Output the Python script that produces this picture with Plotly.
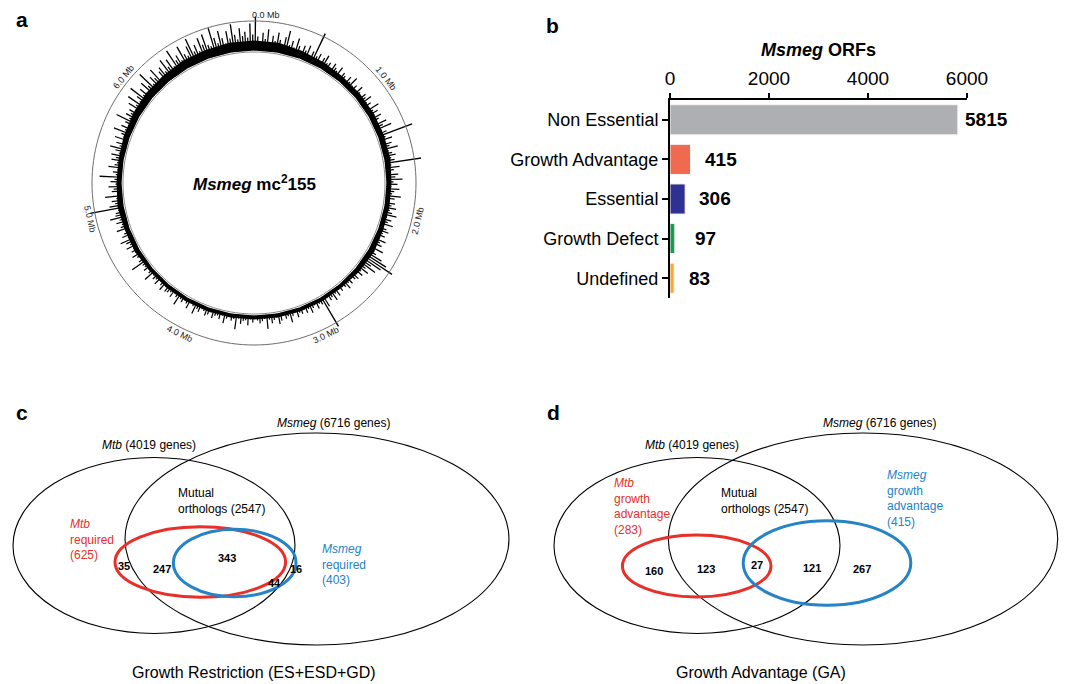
import math
import plotly.graph_objects as go

# ---------------- DATA ----------------
GENOME_MB = 6.988
ring_tick_mb = [0, 1, 2, 3, 4, 5, 6]
ring_tick_labels = ["0.0 Mb", "1.0 Mb", "2.0 Mb", "3.0 Mb", "4.0 Mb", "5.0 Mb", "6.0 Mb"]

# dense insertion band thickness (px) sampled every 10 degrees of the genome circle
band_deg = list(range(0, 370, 10))
band_px = [10, 10, 8, 7, 6, 6, 6, 6, 6, 5, 5, 5, 6, 5, 4, 4, 4, 4, 4, 4,
           4, 4, 4, 4, 5, 5, 6, 5, 5, 6, 7, 8, 8, 9, 9, 10, 10]

# insertion spike heights (px), one per 1/360 of the genome
spike_px = [
    34, 14, 9, 18, 12, 22, 8, 16, 11, 20, 13, 7, 17, 24, 10, 15, 9, 19, 12, 8,
    14, 10, 16, 7, 12, 33, 9, 13, 6, 11, 15, 8, 10, 5, 12, 9, 7, 13, 6, 10,
    8, 5, 11, 7, 14, 6, 9, 4, 12, 7, 5, 10, 8, 13, 6, 9, 5, 15, 7, 11,
    6, 12, 8, 5, 14, 9, 17, 6, 10, 37, 7, 13, 5, 11, 8, 16, 6, 9, 12, 7,
    10, 39, 6, 14, 8, 5, 12, 9, 16, 7, 11, 5, 13, 8, 6, 15, 9, 4, 10, 7,
    12, 6, 9, 14, 5, 10, 7, 13, 4, 8, 11, 6, 9, 5, 12, 7, 10, 4, 14, 6,
    9, 17, 24, 33, 21, 11, 18, 8, 13, 6, 10, 5, 9, 7, 4, 8, 5, 10, 6, 4,
    7, 4, 9, 5, 11, 6, 8, 4, 12, 34, 7, 5, 9, 4, 6, 10, 5, 8, 4, 7,
    5, 9, 4, 6, 12, 5, 7, 3, 8, 11, 4, 6, 9, 5, 14, 4, 6, 8, 5, 3,
    7, 4, 10, 5, 6, 9, 4, 15, 5, 7, 3, 6, 11, 4, 8, 5, 6, 9, 4, 7,
    9, 5, 4, 8, 6, 12, 5, 3, 10, 6, 4, 7, 5, 13, 6, 4, 9, 5, 7, 8,
    4, 10, 6, 3, 9, 5, 7, 4, 13, 6, 4, 8, 5, 6, 17, 7, 4, 6, 10, 5,
    8, 5, 11, 6, 9, 14, 5, 10, 7, 4, 13, 8, 6, 11, 7, 16, 10, 9, 6, 34,
    14, 8, 11, 6, 17, 5, 10, 8, 13, 6, 11, 7, 22, 6, 9, 5, 14, 8, 6, 12,
    8, 13, 6, 10, 16, 7, 11, 5, 14, 6, 9, 18, 7, 12, 6, 10, 21, 8, 13, 9,
    12, 7, 16, 9, 20, 8, 13, 23, 9, 15, 7, 18, 11, 25, 9, 16, 12, 21, 8, 14,
    17, 10, 22, 12, 19, 9, 26, 13, 17, 10, 24, 14, 11, 20, 27, 12, 18, 10, 23, 15,
    25, 13, 11, 29, 18, 12, 24, 16, 10, 22, 14, 28, 17, 12, 23, 15, 19, 13, 27, 16,
]

orf_categories = ["Non Essential", "Growth Advantage", "Essential", "Growth Defect", "Undefined"]
orf_counts = [5815, 415, 306, 97, 83]
orf_ticks = [0, 2000, 4000, 6000]

venn_c_counts = [35, 247, 343, 44, 16]
venn_d_counts = [160, 123, 27, 121, 267]
mtb_genes = 4019
msmeg_genes = 6716
mutual_orthologs = 2547
c_mtb_required, c_msmeg_required = 625, 403
d_mtb_ga, d_msmeg_ga = 283, 415

# ---------------- STYLE ----------------
W, H = 1072, 684
FONT = "Liberation Sans, Arial, sans-serif"
orf_colors = ["#AEAFB2", "#EF6A4F", "#2E3192", "#1A9A50", "#F5A834"]
label_shift = [5, 12, 12, 18, 13]
RED = "#E8302A"
BLUE = "#2583C6"

# ring geometry (px)
CX, CY = 254, 183
HOLE_R = 129
RMAX = 40
OUTER = 33
INNER = 2
BASE = 3.5

fig = go.Figure()

# ---------- panel a: genome ring ----------
def mb_to_deg(mb):
    return mb / GENOME_MB * 360.0

n_bins = len(spike_px)
bin_mb = [(i + 0.5) * GENOME_MB / n_bins for i in range(n_bins)]

circle_theta = [i * 2 for i in range(181)]
fig.add_trace(go.Scatterpolar(r=[OUTER] * len(circle_theta), theta=circle_theta, mode="lines",
                              line=dict(color="#6d6d6d", width=1), hoverinfo="skip",
                              showlegend=False, subplot="polar"))
fig.add_trace(go.Scatterpolar(r=[INNER] * len(circle_theta), theta=circle_theta, mode="lines",
                              line=dict(color="#8a8a8a", width=1), hoverinfo="skip",
                              showlegend=False, subplot="polar"))
band_theta = band_deg + band_deg[::-1]
band_r = [BASE + v for v in band_px] + [BASE] * len(band_deg)
fig.add_trace(go.Scatterpolar(r=band_r, theta=band_theta, mode="lines", fill="toself",
                              fillcolor="black", line=dict(width=0, color="black"),
                              hoverinfo="skip", showlegend=False, subplot="polar"))
fig.add_trace(go.Barpolar(r=spike_px, theta=[mb_to_deg(m) for m in bin_mb], base=BASE,
                          width=0.5, marker=dict(color="black", line=dict(width=0)),
                          hoverinfo="skip", showlegend=False, subplot="polar"))

R_OUT_PX = HOLE_R + RMAX
for mb, lab in zip(ring_tick_mb, ring_tick_labels):
    th = mb_to_deg(mb)
    r_lab = HOLE_R + OUTER + 6
    px = CX + r_lab * math.sin(math.radians(th))
    py = CY - r_lab * math.cos(math.radians(th))
    ang = th if th <= 90 else (th - 180 if th < 270 else th - 360)
    fig.add_annotation(x=px / W, y=1 - py / H, xref="paper", yref="paper", text=lab,
                       showarrow=False, textangle=ang, xshift=12 if mb == 0 else 0,
                       xanchor="center", yanchor="middle",
                       font=dict(family=FONT, size=9, color="#222"))

fig.add_annotation(x=CX / W, y=1 - CY / H, xref="paper", yref="paper",
                   text="<b><i>Msmeg</i> mc<sup>2</sup>155</b>", showarrow=False,
                   xanchor="center", yanchor="middle",
                   font=dict(family=FONT, size=17, color="black"))

# ---------- panel b: bar chart ----------
fig.add_trace(go.Bar(y=orf_categories, x=orf_counts, orientation="h",
                     marker=dict(color=orf_colors, line=dict(color="#f4f4f4", width=1)),
                     xaxis="x", yaxis="y", showlegend=False, hoverinfo="skip"))
for cat, v, sh in zip(orf_categories, orf_counts, label_shift):
    fig.add_annotation(x=v, y=cat, xref="x", yref="y", text="<b>%d</b>" % v,
                       showarrow=False, xanchor="left", yanchor="middle", xshift=sh,
                       font=dict(family=FONT, size=19, color="black"))
fig.add_annotation(x=818 / W, y=1 - 50 / H, xref="paper", yref="paper",
                   text="<b><i>Msmeg</i> ORFs</b>", showarrow=False,
                   xanchor="center", yanchor="middle",
                   font=dict(family=FONT, size=18, color="black"))

# ---------- panels c, d: Venn diagrams ----------
def ellipse(cx, cy, rx, ry, color, width):
    fig.add_shape(type="circle", xref="x2", yref="y2", x0=cx - rx, x1=cx + rx,
                  y0=cy - ry, y1=cy + ry, line=dict(color=color, width=width),
                  fillcolor="rgba(0,0,0,0)")

def txt(x, y, s, color="black", size=12, xanchor="center", bold=False):
    if bold:
        s = "<b>%s</b>" % s
    fig.add_annotation(x=x, y=y, xref="x2", yref="y2", text=s, showarrow=False,
                       xanchor=xanchor, yanchor="middle",
                       align="left" if xanchor == "left" else "center",
                       font=dict(family=FONT, size=size, color=color))

# c
ellipse(154, 545.5, 141, 88, "black", 1.1)
ellipse(317, 539, 192, 106, "black", 1.1)
ellipse(200.3, 562, 85.3, 35.3, RED, 3)
ellipse(234.7, 563, 61.3, 33.7, BLUE, 3)
txt(333, 423, "<i>Msmeg</i> (%d genes)" % msmeg_genes)
txt(149, 444.5, "<i>Mtb</i> (%d genes)" % mtb_genes)
txt(176, 500.5, "Mutual<br>orthologs (%d)" % mutual_orthologs, xanchor="left")
txt(67.5, 539.3, "<i>Mtb</i><br>required<br>(%d)" % c_mtb_required, color=RED, xanchor="left")
txt(320, 564.8, "<i>Msmeg</i><br>required<br>(%d)" % c_msmeg_required, color=BLUE, xanchor="left")
for (x, y), v in zip([(124.3, 566), (162.3, 568.7), (226.7, 558), (274, 583), (295.7, 568.7)], venn_c_counts):
    txt(x, y, str(v), size=11, bold=True)
txt(254, 672.7, "Growth Restriction (ES+ESD+GD)", size=16)

# d
ellipse(697, 545.5, 143, 88, "black", 1.1)
ellipse(863, 539, 194.7, 106, "black", 1.1)
ellipse(696.7, 566, 74.3, 31, RED, 3)
ellipse(827, 563, 83.8, 42.2, BLUE, 3)
txt(879.3, 423, "<i>Msmeg</i> (%d genes)" % msmeg_genes)
txt(692.3, 444.5, "<i>Mtb</i> (%d genes)" % mtb_genes)
txt(719.3, 500.5, "Mutual<br>orthologs (%d)" % mutual_orthologs, xanchor="left")
txt(612.3, 506.7, "<i>Mtb</i><br>growth<br>advantage<br>(%d)" % d_mtb_ga, color=RED, xanchor="left")
txt(885, 498.4, "<i>Msmeg</i><br>growth<br>advantage<br>(%d)" % d_msmeg_ga, color=BLUE, xanchor="left")
for (x, y), v in zip([(654.3, 570.7), (705.7, 568.7), (756.7, 565), (812.3, 568.3), (862.3, 569.3)], venn_d_counts):
    txt(x, y, str(v), size=11, bold=True)
txt(760.7, 672.7, "Growth Advantage (GA)", size=16)

# panel letters
for lab, x, y in [("a", 22, 20), ("b", 552, 26), ("c", 22, 412), ("d", 553, 412)]:
    fig.add_annotation(x=x / W, y=1 - y / H, xref="paper", yref="paper", text="<b>%s</b>" % lab,
                       showarrow=False, xanchor="center", yanchor="middle",
                       font=dict(family=FONT, size=21, color="black"))

fig.update_layout(
    width=W, height=H, margin=dict(l=0, r=0, t=0, b=0, pad=0, autoexpand=False), autosize=False,
    paper_bgcolor="white", plot_bgcolor="rgba(0,0,0,0)",
    font=dict(family=FONT, color="black"),
    polar=dict(
        domain=dict(x=[(CX - R_OUT_PX) / W, (CX + R_OUT_PX) / W],
                    y=[1 - (CY + R_OUT_PX) / H, 1 - (CY - R_OUT_PX) / H]),
        hole=HOLE_R / R_OUT_PX, bgcolor="rgba(0,0,0,0)",
        radialaxis=dict(range=[0, RMAX], visible=False),
        angularaxis=dict(rotation=90, direction="clockwise", visible=False),
        bargap=0,
    ),
    xaxis=dict(domain=[670 / W, 967 / W], range=[0, 6000], side="top", tickvals=orf_ticks,
               showline=True, linewidth=2, linecolor="black", ticks="outside", ticklen=5,
               tickwidth=2, tickcolor="black", showgrid=False, zeroline=False,
               tickfont=dict(family=FONT, size=19), anchor="y", automargin=False),
    yaxis=dict(domain=[1 - 298 / H, 1 - 100 / H], autorange="reversed", showline=True,
               linewidth=2, linecolor="black", ticks="outside", ticklen=6, tickwidth=2,
               tickcolor="black", showgrid=False, tickfont=dict(family=FONT, size=18),
               anchor="x", automargin=False),
    xaxis2=dict(domain=[0, 1], range=[0, W], visible=False, anchor="y2", automargin=False),
    yaxis2=dict(domain=[0, 1], range=[H, 0], visible=False, anchor="x2", automargin=False),
    bargap=0.24,
)
# invisible trace to activate x2/y2
fig.add_trace(go.Scatter(x=[0], y=[0], xaxis="x2", yaxis="y2", mode="markers",
                         marker=dict(opacity=0), showlegend=False, hoverinfo="skip"))

page_fix = ("document.documentElement.style.overflow='hidden';"
            "document.body.style.overflow='hidden';"
            "document.body.style.margin='0px';")
fig.write_html("out.html", config={"displayModeBar": False}, post_script=page_fix)
